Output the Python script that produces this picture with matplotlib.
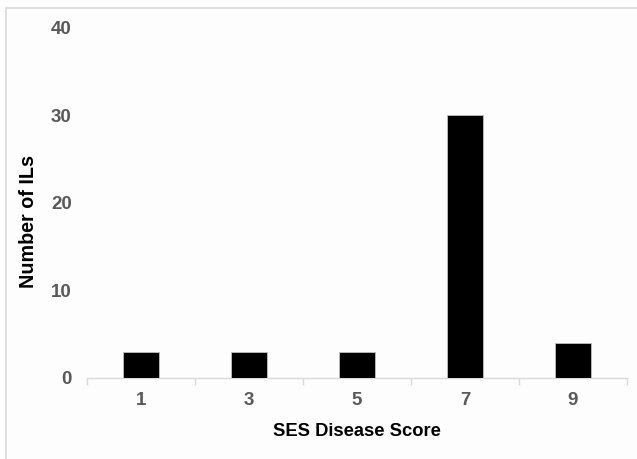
import matplotlib
matplotlib.use("Agg")
import matplotlib.pyplot as plt
from matplotlib.patches import Rectangle
import numpy as np

categories = ["1", "3", "5", "7", "9"]
counts = [3, 3, 3, 30, 4]
yticks = [0, 10, 20, 30, 40]

plt.rcParams['font.family'] = ['Liberation Sans', 'DejaVu Sans']

fig = plt.figure(figsize=(6.37, 4.59), dpi=100)
fig.patch.set_facecolor('#fdfdfd')
ax = fig.add_axes([87/637, 1-378/459, (627-87)/637, 350/459])
ax.set_facecolor('#fdfdfd')

x = np.arange(len(categories))
ax.bar(x, counts, width=0.33, color='black', edgecolor='#bfbfbf', linewidth=0.6, zorder=3)

ax.set_xlim(-0.5, len(categories)-0.5)
ax.set_ylim(0, 40)
ax.set_yticks(yticks)
ax.set_yticklabels([str(t) for t in yticks])
ax.set_xticks(x)
ax.set_xticklabels(categories)
ax.set_xticks(np.arange(-0.5, len(categories), 1.0), minor=True)

for s in ['top', 'right', 'left']:
    ax.spines[s].set_visible(False)
ax.spines['bottom'].set_color('#d9d9d9')
ax.spines['bottom'].set_linewidth(1.0)

ax.tick_params(axis='y', length=0, pad=11, labelsize=13.5, labelcolor='#595959')
ax.tick_params(axis='x', which='major', length=0, pad=10, labelsize=13.5, labelcolor='#595959')
ax.tick_params(axis='x', which='minor', length=5, width=1.0, color='#d9d9d9')
for lab in ax.get_xticklabels() + ax.get_yticklabels():
    lab.set_fontweight('bold')

ax.set_ylabel("Number of ILs", fontsize=14.2, fontweight='bold', color='black', va='center')
ax.set_xlabel("SES Disease Score", fontsize=13.2, fontweight='bold', color='black', va='center')
ax.yaxis.set_label_coords((29-87)/540, (378-222)/350)
ax.xaxis.set_label_coords(0.5, (378-431)/350)

# figure frame
fig.patches.append(Rectangle((6/637, -0.05), 1.0, 1-7.5/459+0.05, transform=fig.transFigure,
                             fill=False, edgecolor='#d9d9d9', linewidth=1.2))

fig.savefig("out.png", dpi=100, facecolor=fig.get_facecolor())
